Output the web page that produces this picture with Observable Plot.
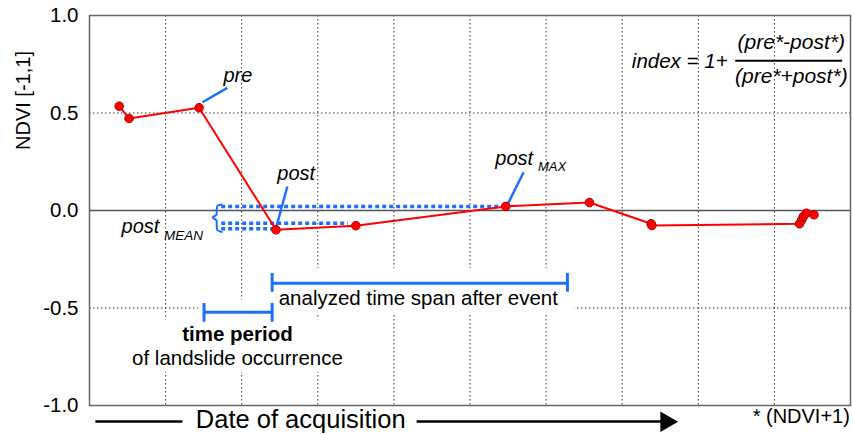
<!DOCTYPE html>
<html><head><meta charset="utf-8">
<script src="https://cdn.jsdelivr.net/npm/d3@7"></script>
<script src="https://cdn.jsdelivr.net/npm/@observablehq/plot@0.6"></script>
<style>body{margin:0;background:#fff}svg{display:block}</style>
</head><body><div id="chart"></div>
<script>
// NDVI time series (x = relative acquisition date, y = NDVI)
const acqDate   = [0.39, 0.52, 1.44, 2.45, 3.50, 5.47, 6.57, 7.38, 7.39, 9.33, 9.36, 9.38, 9.42, 9.52];
const ndviValue = [0.535, 0.472, 0.527, -0.099, -0.078, 0.021, 0.041, -0.068, -0.077, -0.068, -0.048, -0.031, -0.014, -0.022];
const yTicks = [-1, -0.5, 0, 0.5, 1];
const xGrid = [1, 2, 3, 4, 5, 6, 7, 8, 9];
const yDotted = [-0.5, 0.5];
const postMaxValue = 0.021, postMeanValue = -0.065, postValue = -0.094;

const BLUE = "#1f6fff";
const FONT = "'Liberation Sans', Arial, Helvetica, sans-serif";
const series = acqDate.map((d, i) => ({date: d, ndvi: ndviValue[i]}));

const levels = [
  {y: postMaxValue, x1: 1.737, x2: 5.47},
  {y: postMeanValue, x1: 1.737, x2: 3.40},
  {y: postValue, x1: 1.737, x2: 2.42}
];
const brace = [[1.738,0.031],[1.680,0.024],[1.672,0.0],[1.667,-0.022],[1.619,-0.036],[1.667,-0.050],[1.672,-0.075],[1.680,-0.100],[1.738,-0.110]].map(([x,y])=>({x,y}));
const spans = [
  {x1: 2.40, x2: 6.28, y: -0.373, c1: -0.323, c2: -0.419},
  {x1: 1.505, x2: 2.40, y: -0.522, c1: -0.477, c2: -0.573}
];
const caps = spans.flatMap(s => [{x: s.x1, y1: s.c1, y2: s.c2}, {x: s.x2, y1: s.c1, y2: s.c2}]);
const leaders = [
  {x1: 1.484, y1: 0.555, x2: 1.812, y2: 0.629},
  {x1: 2.453, y1: -0.087, x2: 2.600, y2: 0.123},
  {x1: 5.487, y1: 0.026, x2: 5.705, y2: 0.196}
];
const masks = [
  {x1: 2.28, x2: 6.38, y1: -0.297, y2: -0.533},
  {x1: 0.52, x2: 3.36, y1: -0.56, y2: -0.83},
  {x1: 1.44, x2: 2.45, y1: -0.46, y2: -0.60}
];
const italicLabels = [
  {x: 1.760, y: 0.658, t: "pre", s: 20, a: "start"},
  {x: 2.468, y: 0.156, t: "post", s: 20, a: "start"},
  {x: 5.333, y: 0.231, t: "post", s: 20, a: "start"},
  {x: 5.894, y: 0.205, t: "MAX", s: 13, a: "start"},
  {x: 0.421, y: -0.115, t: "post", s: 20, a: "start"},
  {x: 0.980, y: -0.149, t: "MEAN", s: 13.5, a: "start"},
  {x: 7.127, y: 0.733, t: "index = 1+", s: 20.5, a: "start"},
  {x: 9.222, y: 0.828, t: "(pre*-post*)", s: 21, a: "middle"},
  {x: 9.222, y: 0.654, t: "(pre*+post*)", s: 21, a: "middle"}
];
const plainLabels = [
  {x: 2.486, y: -0.487, t: "analyzed time span after event", s: 20.5, a: "start", w: "normal"},
  {x: 1.944, y: -0.667, t: "time period", s: 20.5, a: "middle", w: "bold"},
  {x: 1.944, y: -0.790, t: "of landslide occurrence", s: 20.5, a: "middle", w: "normal"},
  {x: 1.397, y: -1.116, t: "Date of acquisition", s: 25.5, a: "start", w: "normal"},
  {x: 9.992, y: -1.092, t: "* (NDVI+1)", s: 20, a: "end", w: "normal"}
];
const arrowShafts = [
  {x1: 0.084, x2: 1.227, y: -1.082},
  {x1: 4.305, x2: 7.53, y: -1.082}
];

const textMarks = italicLabels.map(d => Plot.text([d], {x: "x", y: "y", text: "t", fontSize: d.s, fontStyle: "italic", textAnchor: d.a, lineAnchor: "bottom", fill: "black"}))
  .concat(plainLabels.map(d => Plot.text([d], {x: "x", y: "y", text: "t", fontSize: d.s, fontWeight: d.w, textAnchor: d.a, lineAnchor: "bottom", fill: "black"})));

const chart = Plot.plot({
  width: 853, height: 434,
  marginLeft: 89, marginRight: 3, marginTop: 15, marginBottom: 29,
  x: {domain: [0, 10], axis: null},
  y: {domain: [-1, 1]},
  style: {fontFamily: FONT, fontSize: "20px", background: "white", overflow: "visible"},
  marks: [
    Plot.ruleX(xGrid, {stroke: "#333", strokeWidth: 1, strokeDasharray: "1.5,2.5"}),
    Plot.ruleY(yDotted, {stroke: "#333", strokeWidth: 1, strokeDasharray: "1.5,2.5"}),
    Plot.rect(masks, {x1: "x1", x2: "x2", y1: "y1", y2: "y2", fill: "white"}),
    Plot.ruleY([0], {stroke: "#555", strokeWidth: 1.5}),
    Plot.frame({stroke: "#666", strokeWidth: 1.5}),
    Plot.axisY({ticks: yTicks, tickFormat: d => d.toFixed(1), tickSize: 0, tickPadding: 11, fontSize: 20.5, label: null, fill: "black"}),
    Plot.text(["NDVI [-1,1]"], {frameAnchor: "left", y: () => 0.564, text: d => d, rotate: -90, dx: -60, textAnchor: "middle", lineAnchor: "bottom", fontSize: 20, fill: "black"}),
    Plot.ruleY(levels, {y: "y", x1: "x1", x2: "x2", stroke: BLUE, strokeWidth: 3.5, strokeDasharray: "4,3"}),
    Plot.line(brace, {x: "x", y: "y", stroke: BLUE, strokeWidth: 2, curve: "catmull-rom"}),
    Plot.ruleY(spans, {y: "y", x1: "x1", x2: "x2", stroke: BLUE, strokeWidth: 3}),
    Plot.ruleX(caps, {x: "x", y1: "y1", y2: "y2", stroke: BLUE, strokeWidth: 3}),
    Plot.link(leaders, {x1: "x1", y1: "y1", x2: "x2", y2: "y2", stroke: BLUE, strokeWidth: 2.5}),
    Plot.line(series, {x: "date", y: "ndvi", stroke: "#ff0000", strokeWidth: 2}),
    Plot.dot(series, {x: "date", y: "ndvi", r: 4.3, fill: "#ff0000", stroke: "#b00000", strokeWidth: 1}),
    Plot.ruleY([{x1: 8.492, x2: 9.896, y: 0.768}], {y: "y", x1: "x1", x2: "x2", stroke: "black", strokeWidth: 2}),
    Plot.ruleY(arrowShafts, {y: "y", x1: "x1", x2: "x2", stroke: "black", strokeWidth: 2.5}),
    Plot.dot([{x: 7.579, y: -1.083}], {x: "x", y: "y", symbol: "triangle", rotate: 90, r: 7.6, fill: "black", stroke: "none"}),
    ...textMarks
  ]
});
document.getElementById("chart").append(chart);
</script>
</body></html>
